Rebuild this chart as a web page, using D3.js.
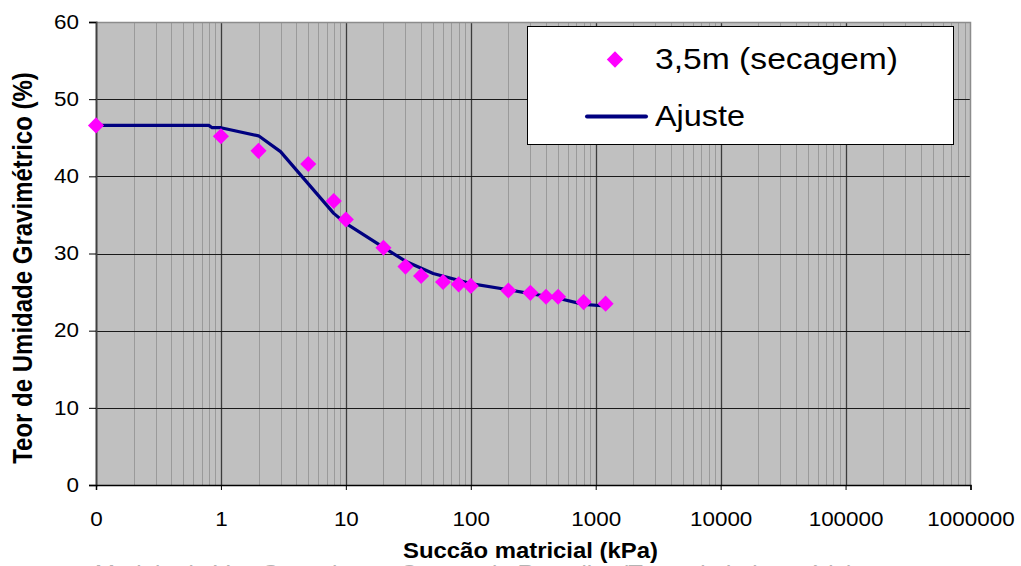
<!DOCTYPE html>
<html>
<head>
<meta charset="utf-8">
<script src="https://cdn.jsdelivr.net/npm/d3@7"></script>
<style>
  html, body { margin: 0; padding: 0; background: #fff; }
  svg { display: block; font-family: "Liberation Sans", Arial, sans-serif; }
</style>
</head>
<body>
<svg id="chart" width="1021" height="566"></svg>
<script>
// ---- data ----
const suctionData = [0.1, 1, 2, 5, 8, 10, 20, 30, 40, 60, 80, 100, 200, 300, 400, 500, 800, 1200];
const moistureData = [46.6, 45.2, 43.3, 41.6, 36.8, 34.4, 30.75, 28.3, 27.1, 26.3, 26.0, 25.8, 25.2, 24.9, 24.4, 24.4, 23.7, 23.5];
const fitSuction = [0.1, 0.8, 0.85, 1, 2, 3, 8, 10, 20, 30, 50, 100, 200, 300, 500, 800, 1200];
const fitMoisture = [46.6, 46.6, 46.3, 46.3, 45.25, 43.2, 35.2, 33.9, 30.8, 29.0, 27.4, 26.1, 25.3, 24.8, 24.2, 23.4, 23.2];
const xTickValues = [0.1, 1, 10, 100, 1000, 10000, 100000, 1000000];
const yTickValues = [0, 10, 20, 30, 40, 50, 60];
const seriesNames = ["3,5m (secagem)", "Ajuste"];

// ---- layout ----
const L = 96, R = 970.5, T = 22, B = 485;
const STRETCH = 1.15; // reference glyphs are horizontally widened
const svg = d3.select("#chart");
const x = d3.scaleLog().domain([0.1, 1000000]).range([L, R]);
const y = d3.scaleLinear().domain([0, 60]).range([B, T]);

function widen(sel, f) {
  sel.each(function () {
    const w = this.getComputedTextLength();
    d3.select(this).attr("textLength", w * (f || STRETCH)).attr("lengthAdjust", "spacingAndGlyphs");
  });
}

// plot background
svg.append("rect").attr("x", L).attr("y", T).attr("width", R - L).attr("height", B - T)
  .attr("fill", "#c0c0c0");

// minor vertical gridlines
const minor = [];
for (let e = -1; e < 6; e++) for (let k = 2; k <= 9; k++) minor.push(k * Math.pow(10, e));
svg.append("g").selectAll("line").data(minor).join("line")
  .attr("x1", d => Math.round(x(d)) + 0.5).attr("x2", d => Math.round(x(d)) + 0.5)
  .attr("y1", T).attr("y2", B)
  .attr("stroke", "#9a9a9a").attr("stroke-width", 1);

// major vertical gridlines
svg.append("g").selectAll("line").data(xTickValues.slice(1, -1)).join("line")
  .attr("x1", d => Math.round(x(d)) + 0.5).attr("x2", d => Math.round(x(d)) + 0.5)
  .attr("y1", T).attr("y2", B)
  .attr("stroke", "#3c3c3c").attr("stroke-width", 1.3);

// horizontal gridlines
svg.append("g").selectAll("line").data(yTickValues.slice(1, -1)).join("line")
  .attr("x1", L).attr("x2", R)
  .attr("y1", d => Math.round(y(d)) + 0.5).attr("y2", d => Math.round(y(d)) + 0.5)
  .attr("stroke", "#1a1a1a").attr("stroke-width", 1);

// plot border (top/right gray)
svg.append("path")
  .attr("d", `M${L},${T + 0.5}H${R}V${B}`)
  .attr("fill", "none").attr("stroke", "#8c8c8c").attr("stroke-width", 1.5);

// axes
const yAxis = d3.axisLeft(y).tickValues(yTickValues).tickSize(7).tickPadding(10).tickFormat(d3.format("d"));
const gy = svg.append("g").attr("transform", `translate(${L},0)`).call(yAxis);
gy.select(".domain").attr("stroke", "#404040").attr("stroke-width", 2);
gy.selectAll(".tick line").attr("stroke", "#000");
gy.selectAll(".tick text").attr("font-size", 19.5).attr("fill", "#000")
  .attr("font-family", "Liberation Sans, Arial, sans-serif").call(widen);

const xAxis = d3.axisBottom(x).tickValues(xTickValues).tickSize(5).tickPadding(22)
  .tickFormat(d => d < 1 ? "0" : d3.format("d")(d));
const gx = svg.append("g").attr("transform", `translate(0,${B})`).call(xAxis);
gx.select(".domain").attr("stroke", "#000").attr("stroke-width", 1.5);
gx.selectAll(".tick line").attr("stroke", "#000");
gx.selectAll(".tick text").attr("font-size", 19.5).attr("fill", "#000")
  .attr("font-family", "Liberation Sans, Arial, sans-serif").call(widen);

// fit line
const line = d3.line().x((d, i) => x(fitSuction[i])).y((d, i) => y(fitMoisture[i]));
svg.append("path").datum(fitMoisture).attr("d", line)
  .attr("fill", "none").attr("stroke", "#000080").attr("stroke-width", 3.2)
  .attr("stroke-linejoin", "round");

// data markers
const diamond = d3.symbol().type(d3.symbolDiamond2).size(165);
svg.append("g").selectAll("path").data(moistureData).join("path")
  .attr("d", diamond)
  .attr("transform", (d, i) => `translate(${x(suctionData[i])},${y(d)})`)
  .attr("fill", "#ff00ff");

// legend
const lg = svg.append("g");
lg.append("rect").attr("x", 527.5).attr("y", 26.5).attr("width", 426).attr("height", 118)
  .attr("fill", "#fff").attr("stroke", "#000").attr("stroke-width", 1);
lg.append("path").attr("d", d3.symbol().type(d3.symbolDiamond2).size(170))
  .attr("transform", "translate(615,59.5)").attr("fill", "#ff00ff");
lg.append("text").attr("x", 655).attr("y", 69).attr("font-size", 29).text(seriesNames[0])
  .attr("textLength", 243).attr("lengthAdjust", "spacingAndGlyphs");
lg.append("line").attr("x1", 587).attr("x2", 646).attr("y1", 116.5).attr("y2", 116.5)
  .attr("stroke", "#000080").attr("stroke-width", 4).attr("stroke-linecap", "round");
lg.append("text").attr("x", 655).attr("y", 126).attr("font-size", 29).text(seriesNames[1])
  .attr("textLength", 90).attr("lengthAdjust", "spacingAndGlyphs");

// axis titles
svg.append("text").attr("transform", `translate(32,268) scale(${STRETCH},1) rotate(-90)`)
  .attr("text-anchor", "middle").attr("font-size", 24).attr("font-weight", "bold")
  .text("Teor de Umidade Gravimétrico (%)");
svg.append("text").attr("x", 530.5).attr("y", 558)
  .attr("text-anchor", "middle").attr("font-size", 22).attr("font-weight", "bold")
  .attr("textLength", 255).attr("lengthAdjust", "spacingAndGlyphs")
  .text("Succão matricial (kPa)");

// cut-off caption at bottom
svg.append("text").attr("x", 95).attr("y", 582).attr("font-size", 24).attr("fill", "#b4b4b4")
  .text("Modelo de Van Genuchten - Campo de Ramalho (Teste de Laboratório)");
</script>
</body>
</html>
